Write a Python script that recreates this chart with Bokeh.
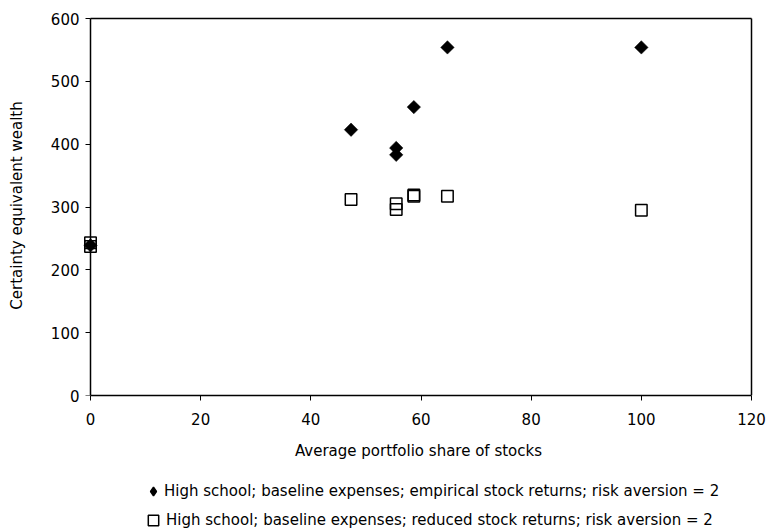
import numpy as np
from bokeh.plotting import figure
from bokeh.layouts import column
from bokeh.models import (ColumnDataSource, FixedTicker, Legend, LegendItem, Range1d,
                          LinearAxis)
from bokeh.embed import file_html
from bokeh.resources import INLINE

# Data
share_empirical = [0, 47.3, 55.5, 55.5, 58.7, 64.8, 100]
wealth_empirical = [239, 423, 394, 383, 459, 554, 554]

share_reduced = [0, 0, 47.3, 55.5, 55.5, 58.7, 58.7, 64.8, 100]
wealth_reduced = [243, 237, 312, 305, 296, 317, 319, 317, 295]

x_ticks = [0, 20, 40, 60, 80, 100, 120]
y_ticks = [0, 100, 200, 300, 400, 500, 600]

label_empirical = "High school; baseline expenses; empirical stock returns; risk aversion = 2"
label_reduced = "High school; baseline expenses; reduced stock returns; risk aversion = 2"

FONT = "DejaVu Sans"
FS = "15px"

# layout (pixels): plotting box from x=0..120 spans 661 px, y=0..600 spans 377 px
x_px = 661 / (x_ticks[-1] - x_ticks[0])
y_px = 377 / (y_ticks[-1] - y_ticks[0])
pad_l, pad_r, pad_t = 8, 3, 3
x_range = Range1d(x_ticks[0] - pad_l / x_px, x_ticks[-1] + pad_r / x_px)
y_range = Range1d(y_ticks[0], y_ticks[-1] + pad_t / y_px)

p = figure(width=767, height=470, output_backend="svg", toolbar_location=None,
           x_range=x_range, y_range=y_range,
           min_border_left=82, min_border_right=13, min_border_top=15, min_border_bottom=75)
p.background_fill_color = "white"
p.border_fill_color = "white"
p.outline_line_color = None
p.grid.visible = False

src_e = ColumnDataSource(dict(x=share_empirical, y=wealth_empirical))
src_r = ColumnDataSource(dict(x=share_reduced, y=wealth_reduced))

# top and right border of the plotting box
p.segment(x0=[x_ticks[0], x_ticks[-1]], y0=[y_ticks[-1], y_ticks[0]],
          x1=[x_ticks[-1], x_ticks[-1]], y1=[y_ticks[-1], y_ticks[-1]],
          line_color="black", line_width=1.5)

p.scatter("x", "y", source=src_e, marker="square", angle=np.pi / 4, size=9.5,
          fill_color="black", line_color="black", line_width=0.5)
p.scatter("x", "y", source=src_r, marker="square", size=11.5,
          fill_alpha=0, line_color="black", line_width=1.5)

xax = p.xaxis[0]
xax.axis_line_color = "black"
xax.axis_line_width = 1.5
xax.major_tick_line_color = "black"
xax.major_tick_out = 5
xax.major_tick_in = 0
xax.minor_tick_line_color = None
xax.major_label_text_font = FONT
xax.major_label_text_font_size = FS
xax.major_label_text_color = "black"
xax.axis_label_text_font = FONT
xax.axis_label_text_font_size = FS
xax.axis_label_text_font_style = "normal"
xax.axis_label_text_color = "black"
xax.ticker = FixedTicker(ticks=x_ticks)
xax.bounds = (x_ticks[0], x_ticks[-1])
xax.axis_label = "Average portfolio share of stocks"
xax.major_label_standoff = 12
xax.axis_label_standoff = 14

# y axis line and ticks sit at x = 0
yax = p.yaxis[0]
yax.ticker = FixedTicker(ticks=y_ticks)
yax.bounds = (y_ticks[0], y_ticks[-1])
yax.fixed_location = x_ticks[0]
yax.axis_line_color = "black"
yax.axis_line_width = 1.5
yax.major_tick_line_color = "black"
yax.major_tick_out = 5
yax.major_tick_in = 0
yax.minor_tick_line_color = None
yax.major_label_text_color = None
yax.major_label_text_font_size = "0px"
yax.major_label_standoff = 0

# y tick labels and title carried by a second axis in the left margin
ylab = LinearAxis(axis_label="Certainty equivalent wealth", ticker=FixedTicker(ticks=y_ticks),
                  axis_line_color=None, major_tick_out=0, major_tick_in=0,
                  minor_tick_out=0, minor_tick_in=0,
                  major_tick_line_color=None, minor_tick_line_color=None,
                  major_label_standoff=3, major_label_text_font=FONT,
                  major_label_text_font_size=FS, major_label_text_color="black",
                  axis_label_standoff=22, axis_label_text_font=FONT,
                  axis_label_text_font_size=FS, axis_label_text_font_style="normal",
                  axis_label_text_color="black")
p.add_layout(ylab, "left")

# legend strip below the chart
q = figure(width=767, height=59, output_backend="svg", toolbar_location=None,
           x_axis_location=None, y_axis_location=None,
           min_border_left=0, min_border_right=0, min_border_top=0, min_border_bottom=0)
q.outline_line_color = None
q.grid.visible = False
q.background_fill_color = "white"
q.border_fill_color = "white"
l_e = q.scatter("x", "y", source=src_e, marker="diamond", size=8.8,
                fill_color="black", line_color="black", line_width=1.5, visible=False)
l_r = q.scatter("x", "y", source=src_r, marker="square", size=11.5,
                fill_alpha=0, line_color="black", line_width=1.5, visible=False)

common = dict(orientation="vertical", padding=0, margin=0, border_line_color=None,
              background_fill_alpha=0, label_text_font=FONT, label_text_font_size=FS,
              label_text_color="black")
legend_e = Legend(items=[LegendItem(label=label_empirical, renderers=[l_e])],
                  location=(60, 27), glyph_width=22, glyph_height=22, label_height=22,
                  label_standoff=-2, **common)
legend_r = Legend(items=[LegendItem(label=label_reduced, renderers=[l_r])],
                  location=(58, -4), glyph_width=26, glyph_height=26, label_height=26,
                  label_standoff=-4, **common)
q.add_layout(legend_e, "center")
q.add_layout(legend_r, "center")

layout = column(p, q, spacing=0)
open("out.html", "w").write(file_html(layout, INLINE))
